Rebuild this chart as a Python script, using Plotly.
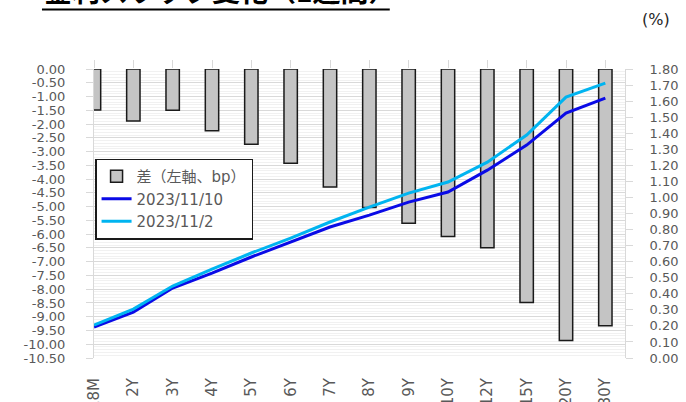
import plotly.graph_objects as go

categories = ["18M", "2Y", "3Y", "4Y", "5Y", "6Y", "7Y", "8Y", "9Y", "10Y", "12Y", "15Y", "20Y", "30Y"]
diff_bp = [-1.49, -1.89, -1.50, -2.24, -2.73, -3.42, -4.29, -5.03, -5.60, -6.09, -6.49, -8.48, -9.86, -9.33]
rate_1110 = [0.193, 0.286, 0.436, 0.529, 0.629, 0.722, 0.816, 0.890, 0.971, 1.034, 1.170, 1.326, 1.525, 1.619]
rate_1102 = [0.205, 0.305, 0.448, 0.554, 0.654, 0.747, 0.847, 0.940, 1.027, 1.096, 1.220, 1.389, 1.625, 1.712]

left_tickvals = [-0.5 * i for i in range(22)]
left_ticktext = ["0.00"] + [f"-{0.5 * i:.2f}" for i in range(1, 22)]
right_tickvals = [0.1 * i for i in range(19)]
right_ticktext = [f"{0.1 * i:.2f}" for i in range(19)]

title_text = "金利スワップ変化（1週間）"
unit_text = "(%)"
bar_name = "差（左軸、bp）"
name_1110 = "2023/11/10"
name_1102 = "2023/11/2"

TICK_FONT = dict(family="DejaVu Sans", size=13, color="#595959")
GRID = "#d9d9d9"

fig = go.Figure()
fig.add_trace(go.Bar(
    x=categories, y=diff_bp, name=bar_name, yaxis="y", width=0.34,
    marker=dict(color="#c4c4c4", line=dict(color="#1a1a1a", width=1.5)),
))
fig.add_trace(go.Scatter(
    x=categories, y=rate_1110, name=name_1110, yaxis="y2", mode="lines",
    line=dict(color="#0a0ae6", width=3),
))
fig.add_trace(go.Scatter(
    x=categories, y=rate_1102, name=name_1102, yaxis="y2", mode="lines",
    line=dict(color="#00b4f0", width=3),
))
# invisible trace to carry the top tick marks axis
fig.add_trace(go.Scatter(
    x=categories, y=[None] * len(categories), xaxis="x2", yaxis="y",
    showlegend=False, hoverinfo="skip", mode="lines",
))

fig.update_layout(
    width=686, height=402,
    margin=dict(l=94, r=61, t=69, b=44),
    plot_bgcolor="white", paper_bgcolor="white",
    barmode="overlay",
    showlegend=True,
    legend=dict(
        x=0.002, y=0.69, xanchor="left", yanchor="top",
        bgcolor="white", bordercolor="#1a1a1a", borderwidth=1.5,
        font=dict(family="DejaVu Sans, Noto Sans CJK JP", size=15, color="#595959"),
        tracegroupgap=1,
    ),
    xaxis=dict(
        type="category", range=[0, 13.5], automargin=False,
        tickangle=-90, tickfont=dict(family="DejaVu Sans", size=15, color="#595959"),
        ticks="", showgrid=False, showline=False, zeroline=False,
        ticklabelstandoff=16,
    ),
    xaxis2=dict(
        type="category", overlaying="x", matches="x", side="top", automargin=False,
        showticklabels=False, ticks="outside", ticklen=8, tickcolor=GRID,
        showgrid=False, showline=False, zeroline=False,
    ),
    yaxis=dict(
        range=[-10.5, 0], tickvals=left_tickvals, ticktext=left_ticktext, automargin=False,
        tickfont=TICK_FONT, ticks="outside", ticklen=7, tickcolor=GRID,
        showgrid=True, gridcolor=GRID, gridwidth=1,
        minor=dict(dtick=0.1, showgrid=True, gridcolor="#f1f1f1"),
        showline=True, linecolor=GRID, zeroline=False,
        ticklabelstandoff=18,
    ),
    yaxis2=dict(
        range=[0, 1.8], overlaying="y", side="right", automargin=False,
        tickvals=right_tickvals, ticktext=right_ticktext,
        tickfont=TICK_FONT, ticks="outside", ticklen=7, tickcolor=GRID,
        showgrid=False, showline=True, linecolor=GRID, zeroline=False,
        ticklabelstandoff=14,
    ),
    annotations=[
        dict(
            text=f"<b>{title_text}</b>", xref="paper", yref="paper",
            x=-0.098, y=1.197, xanchor="left", yanchor="bottom", showarrow=False,
            font=dict(family="Noto Sans CJK JP", size=28, color="black"),
        ),
        dict(
            text=unit_text, xref="paper", yref="paper",
            x=1.058, y=1.17, xanchor="center", yanchor="middle", showarrow=False,
            font=dict(family="DejaVu Sans", size=16, color="#262626"),
        ),
    ],
    shapes=[
        dict(type="line", xref="paper", yref="paper",
             x0=-0.098, x1=0.557, y0=1.206, y1=1.206,
             line=dict(color="black", width=2)),
    ],
)

fig.write_html("out.html", config={"displayModeBar": False},
               post_script="document.body.style.margin='0';")
